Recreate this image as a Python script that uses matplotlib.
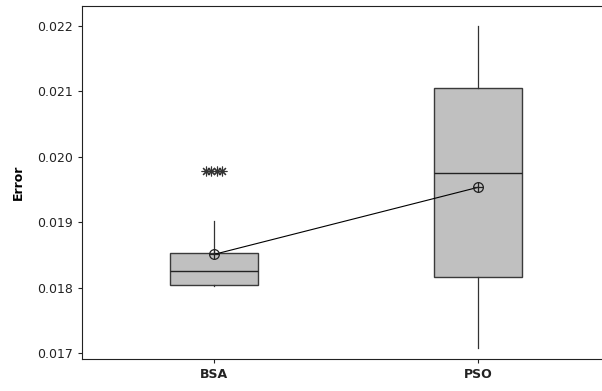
import matplotlib
matplotlib.use("Agg")
import matplotlib.pyplot as plt

# data
labels = ["BSA", "PSO"]
q1 = [0.01804, 0.018167]
med = [0.018254, 0.019752]
q3 = [0.018534, 0.021047]
wlo = [0.01802, 0.017072]
whi = [0.019018, 0.0220]
means = [0.018509, 0.019534]
outliers_bsa = [0.01978, 0.01978, 0.01978, 0.01978]

fig = plt.figure(figsize=(6.02, 3.91), dpi=100)
ax = fig.add_axes([82/602, (391-359)/391, (610-82)/602, (359-6)/391])

stats = []
for i in range(2):
    stats.append(dict(med=med[i], q1=q1[i], q3=q3[i], whislo=wlo[i], whishi=whi[i], label=labels[i]))

ax.bxp(stats, positions=[1, 2], widths=0.335, showcaps=False, showfliers=False,
       patch_artist=True,
       boxprops=dict(facecolor="#c0c0c0", edgecolor="#3a3a3a", linewidth=1.0),
       medianprops=dict(color="#222222", linewidth=1.0),
       whiskerprops=dict(color="#333333", linewidth=0.9))

# outliers stacked side by side
n = len(outliers_bsa)
for k, v in enumerate(outliers_bsa):
    ax.plot(1 + (k - (n-1)/2)*0.019, v, marker=(8, 2, 0), color="#333333",
            markersize=7, markeredgewidth=0.8, linestyle="none")

# mean connect line
ax.plot([1, 2], means, color="black", linewidth=0.8, zorder=4)
ax.plot([1, 2], means, linestyle="none", marker="o", markersize=7,
        markerfacecolor="none", markeredgecolor="#222222", markeredgewidth=0.9, zorder=5)
ax.plot([1, 2], means, linestyle="none", marker="+", markersize=7,
        color="#222222", markeredgewidth=0.9, zorder=5)

ax.set_xlim(0.5, 2.5)
ax.set_ylim(0.01691, 0.022306)
ax.set_yticks([0.017, 0.018, 0.019, 0.020, 0.021, 0.022])
ax.set_yticklabels(["0.017", "0.018", "0.019", "0.020", "0.021", "0.022"])
ax.set_xticks([1, 2])
ax.set_xticklabels(labels, fontweight="bold")
ax.tick_params(labelsize=9, length=3, colors="#222222")
for s in ["left", "bottom", "top"]:
    ax.spines[s].set_color("#222222")
ax.spines["right"].set_visible(False)
ax.set_ylabel("Error", fontweight="bold", fontsize=9, labelpad=9)

fig.savefig("out.png", dpi=100)
